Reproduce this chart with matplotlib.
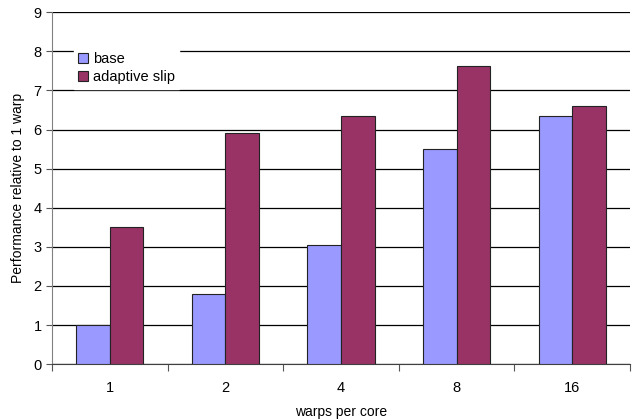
import numpy as np
import matplotlib.pyplot as plt

plt.rcParams['font.family'] = ['Liberation Sans', 'DejaVu Sans']

# Data
categories = ['1', '2', '4', '8', '16']
base = [1.0, 1.79, 3.05, 5.5, 6.35]
adaptive_slip = [3.5, 5.92, 6.35, 7.62, 6.6]

fig = plt.figure(figsize=(6.41, 4.2), dpi=100)
ax = fig.add_axes([0.081, 0.133, 0.902, 0.838])

x = np.arange(len(categories))
w = 0.29
ax.bar(x - w / 2, base, w, color='#9999FF', edgecolor='#222222', linewidth=0.8,
       label='base', zorder=3)
ax.bar(x + w / 2, adaptive_slip, w, color='#993366', edgecolor='#222222', linewidth=0.8,
       label='adaptive slip', zorder=3)

ax.set_xlim(-0.5, len(categories) - 0.5)
ax.set_ylim(0, 9)
ax.set_yticks(range(10))
ax.yaxis.grid(True, color='black', linewidth=0.9, zorder=0)
ax.set_axisbelow(True)

# ticks between categories, labels centred
ax.set_xticks(np.arange(len(categories) + 1) - 0.5)
ax.set_xticklabels([])
ax.set_xticks(x, minor=True)
ax.set_xticklabels(categories, minor=True)
ax.tick_params(axis='x', which='minor', length=0, pad=12, labelsize=10.5)
ax.tick_params(axis='x', which='major', length=5, direction='out', color='#555555')
ax.tick_params(axis='y', length=4, direction='out', color='#555555', labelsize=10.5)

for s in ['top', 'right']:
    ax.spines[s].set_visible(False)
ax.spines['left'].set_color('#808080')
ax.spines['bottom'].set_color('#404040')

ax.set_xlabel('warps per core', fontsize=10, labelpad=7)
ax.set_ylabel('Performance relative to 1 warp', fontsize=10, labelpad=6)

leg = ax.legend(loc='upper left', bbox_to_anchor=(0.025, 0.92), fontsize=10.5,
                frameon=True, fancybox=False, handlelength=0.7, handleheight=0.7,
                handletextpad=0.3, labelspacing=0.3, borderpad=0.3)
leg.get_frame().set_facecolor('white')
leg.get_frame().set_edgecolor('white')
leg.get_frame().set_alpha(1)

fig.savefig('out.png', dpi=100)
